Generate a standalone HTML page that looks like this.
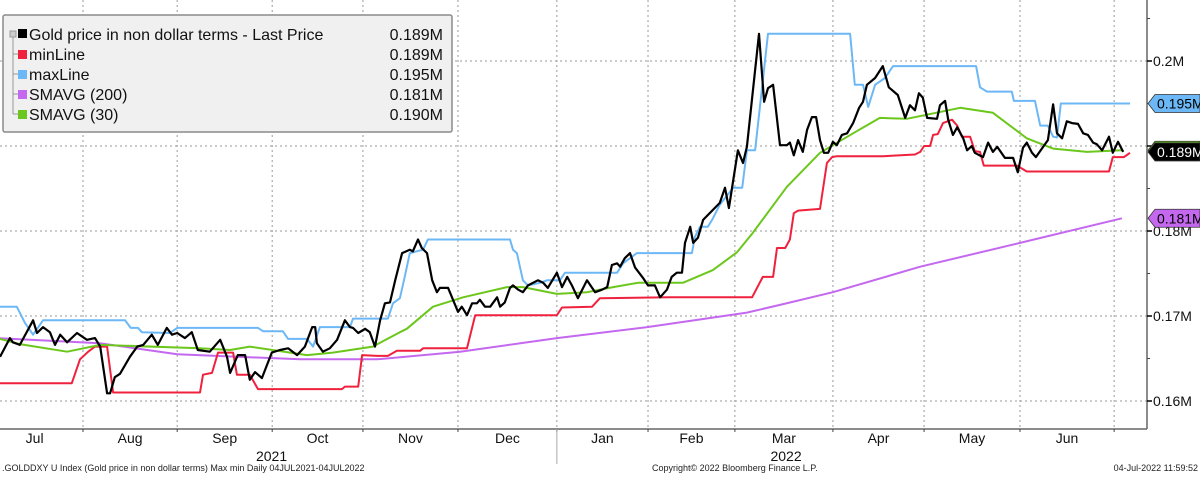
<!DOCTYPE html>
<html><head><meta charset="utf-8">
<style>
html,body{margin:0;padding:0;background:#fff;}
body{width:1200px;height:474px;overflow:hidden;font-family:"Liberation Sans",sans-serif;}
svg text{font-family:"Liberation Sans",sans-serif;}
</style></head>
<body>
<svg id="chart" width="1200" height="474" viewBox="0 0 1200 474" xmlns="http://www.w3.org/2000/svg">
  <g id="grid"></g>
  <g id="series"></g>
  <g id="axes"></g>
  <g id="legend">
    <rect x="3" y="15" width="449" height="117" rx="2" fill="#f0f0f0" stroke="#8a8a8a" stroke-width="1.5"/>
    <line x1="13" y1="34" x2="13" y2="114" stroke="#999" stroke-width="1"/>
    <rect x="10" y="31" width="6" height="6" fill="#ccc" stroke="#999"/>
    <g>
      <rect x="18" y="29" width="9" height="9" fill="#000"/>
      <text x="29" y="40" font-size="16" fill="#111">Gold price in non dollar terms - Last Price</text>
      <text x="443" y="40" font-size="16" fill="#111" text-anchor="end">0.189M</text>
    </g>
    <g>
      <line x1="13" y1="54" x2="18" y2="54" stroke="#999"/>
      <rect x="18" y="50" width="9" height="9" fill="#f0213d"/>
      <text x="29" y="60" font-size="16" fill="#111">minLine</text>
      <text x="443" y="60" font-size="16" fill="#111" text-anchor="end">0.189M</text>
    </g>
    <g>
      <line x1="13" y1="74" x2="18" y2="74" stroke="#999"/>
      <rect x="18" y="70" width="9" height="9" fill="#6cb8f6"/>
      <text x="29" y="80" font-size="16" fill="#111">maxLine</text>
      <text x="443" y="80" font-size="16" fill="#111" text-anchor="end">0.195M</text>
    </g>
    <g>
      <line x1="13" y1="94" x2="18" y2="94" stroke="#999"/>
      <rect x="18" y="90" width="9" height="9" fill="#c468f0"/>
      <text x="29" y="100" font-size="16" fill="#111">SMAVG (200)</text>
      <text x="443" y="100" font-size="16" fill="#111" text-anchor="end">0.181M</text>
    </g>
    <g>
      <line x1="13" y1="114" x2="18" y2="114" stroke="#999"/>
      <rect x="18" y="110" width="9" height="9" fill="#6cc71c"/>
      <text x="29" y="120" font-size="16" fill="#111">SMAVG (30)</text>
      <text x="443" y="120" font-size="16" fill="#111" text-anchor="end">0.190M</text>
    </g>
  </g>
  <g id="tags"></g>
  <g id="footer">
    <text x="2" y="471" font-size="9" fill="#222">.GOLDDXY U Index (Gold price in non dollar terms) Max min  Daily 04JUL2021-04JUL2022</text>
    <text x="652" y="471" font-size="9" fill="#222">Copyright© 2022 Bloomberg Finance L.P.</text>
    <text x="1198" y="471" font-size="9" fill="#222" text-anchor="end">04-Jul-2022 11:59:52</text>
  </g>
</svg>
<script>
// ---- data (x = trading-day index from 05-Jul-2021, values in thousands) ----
const monthStarts = [20, 41.9, 64, 85.1, 107.2, 130.2, 151.4, 171.6, 194.4, 215.6, 237.9, 259.8];
const monthLabels = ["Jul","Aug","Sep","Oct","Nov","Dec","Jan","Feb","Mar","Apr","May","Jun"];
const yTicks = [160, 170, 180, 190, 200];
const yTickLabels = ["0.16M","0.17M","0.18M","0.19M","0.2M"];
const yMinorTicks = [165, 175, 185, 195, 205];
const yearLabels = ["2021","2022"];

const priceDays = [0.7,3,3.7,5.3,8.4,9.3,10.7,12.3,13.5,14.7,16.3,18.6,20.9,22.8,24,25.6,26.3,27.4,28.6,30.9,32.6,34,36,37.4,39.5,40.7,41.9,43.7,45.3,46.7,49.5,51.9,53.5,54.2,56,57.7,58.8,60,61.6,63.9,65.8,67.7,69.8,71.6,73.3,74,74.4,75.8,77.4,79.1,80.9,82.1,82.8,84,85.6,86.7,87.9,89.1,90.2,91.4,92.6,94.2,96,96.7,97.9,98.8,100,101.2,102.3,103,104.9,107.2,108.1,109.3,110.5,111.6,112.3,113.5,114.7,116.3,117,118.1,119.3,120,121.2,122.3,123.5,125.8,127,128.1,130.2,131.4,132.6,133.7,135.1,137.2,139.1,140.7,141.9,143,144.2,144.9,146,147.2,148.4,150.2,151.4,153,154.2,155.8,156.9,158.1,159.3,160,161.2,161.9,163,164.2,168.1,169.3,170.2,172.3,173.5,174.4,177.2,178.4,179.3,180.5,182.1,183.7,184.4,185.3,186.3,187.4,188.4,189.5,190.5,191.4,192.3,193.3,194.4,195.3,196.5,197.7,199.1,200.5,201.4,202.3,204.2,206,207.4,209.5,211.2,212.3,213.5,214.4,215.3,216.3,218.6,219.3,220.5,221.2,222.3,223.3,224.7,225.6,226.7,227.4,229.3,230.5,231.6,232.6,234.4,236.3,237.4,238.6,239.5,240.7,241.6,243.3,244.4,245.6,246.5,247.7,248.8,250,251.4,252.6,253.7,254.9,255.8,257,258.6,259.5,260.7,261.9];
const priceVals = [165.2,167.4,166.9,166.6,169.5,168.0,168.7,168.1,166.6,167.8,166.9,168.0,167.2,167.4,166.4,160.9,160.9,162.8,163.2,165.2,166.4,166.6,167.8,166.6,168.6,167.8,168.0,167.4,168.1,166.0,165.8,167.2,165.2,163.3,165.4,165.4,162.5,163.4,162.7,165.7,166.0,166.2,165.4,166.4,168.7,168.7,166.8,165.8,166.2,167.2,169.5,168.7,168.6,168.0,168.5,168.1,166.4,169.5,171.5,171.6,174.2,177.4,177.8,177.6,179.0,178.0,177.4,174.2,172.8,173.3,173.3,170.5,171.1,170.1,171.5,171.5,171.9,171.1,171.1,172.2,171.1,171.6,173.3,173.6,173.1,172.8,173.6,174.2,173.9,173.3,175.1,173.4,174.6,173.6,172.1,174.2,172.8,173.1,173.4,176.0,176.2,175.8,176.8,177.4,175.7,174.5,173.6,173.6,172.2,173.1,174.6,175.1,175.1,178.6,180.5,178.6,179.2,181.3,183.3,185.1,182.7,189.5,188.0,189.9,203.2,195.2,196.8,197.2,190.1,190.1,190.4,188.9,190.7,189.3,191.9,193.4,193.4,190.7,189.2,189.2,190.5,190.1,191.3,191.5,192.7,194.5,195.2,197.2,198.0,199.4,196.9,196.0,193.3,194.8,194.2,196.2,195.7,193.3,193.2,194.8,195.3,193.1,191.3,192.2,190.9,189.5,190.0,189.2,188.7,190.4,189.3,189.9,188.6,188.6,186.9,189.8,190.4,189.2,188.7,189.9,190.7,194.9,191.5,190.9,192.9,192.7,192.6,191.5,191.3,190.4,190.2,189.5,191.1,189.2,190.5,189.3];

const minDays = [0,17.4,19.3,21.2,22.8,25.6,27,47.2,47.9,50,51.4,54.9,55.8,58.8,60.7,80.2,80.9,84,84.9,88.4,90.9,93,98.4,99.1,109.3,111.2,130.2,131.4,138.4,140.2,156.5,175.6,178.1,180.5,181.4,183.3,184.4,185.3,186.3,191.4,193,194.2,195.3,206,213.5,214.7,215.6,217,217.7,218.8,220,222.1,223.3,224.4,226.3,227.4,228.6,229.5,237.2,239.5,258.6,259.5,262.1,263.5];
const minVals = [162.1,162.1,164.9,165.8,166.4,166.4,161.0,161.0,163.1,163.3,165.7,165.7,163.1,163.1,161.4,161.4,161.7,161.7,165.4,165.3,165.3,165.9,165.9,166.2,166.2,170.1,170.1,171.0,171.1,172.1,172.2,172.2,174.6,174.6,178.0,178.0,179.0,182.1,182.4,182.6,188.0,188.7,188.8,188.8,189.0,189.3,190.0,190.0,191.3,191.4,192.7,193.1,192.4,191.1,191.1,189.4,189.3,187.7,187.7,187.0,187.0,188.7,188.7,189.2];

const maxDays = [0,4.6,6.5,8.4,10.7,29.8,31.1,32.8,33.7,40.2,41.9,60.7,61.9,66.5,67.7,72.1,73.5,75.1,82.1,82.8,90.9,92.1,93.7,94.9,96,99.1,100.2,119.3,120,120.9,122.3,123.5,126.3,127.9,130.9,132.1,144.2,145.6,148.8,161.6,162.3,163.5,165.3,166.3,168.1,171.2,173.3,174.4,176.3,179.3,198.4,199.5,201.4,202.6,204.2,206.5,208.4,227.7,228.6,230.2,236,236.5,241.4,242.6,244.4,245.6,246.5,247.4,263.5];
const maxVals = [171.1,171.1,169.2,167.8,169.5,169.5,168.6,168.6,168.1,168.0,168.6,168.6,168.2,168.2,167.3,167.3,166.4,168.7,168.7,169.7,169.7,171.5,172.1,174.8,177.4,177.8,179.0,179.0,177.8,177.4,174.2,173.6,173.9,174.2,174.2,175.1,175.1,176.2,177.4,177.4,179.3,180.5,180.5,181.3,183.1,185.1,185.1,189.5,189.5,203.2,203.2,197.2,197.2,194.6,197.2,198.0,199.4,199.4,196.9,196.4,196.4,195.3,195.3,192.4,192.4,191.1,191.0,195.0,195.0];

const sma200Days = [0,23.9,41.9,70.5,88.4,107.7,130.2,151.2,174.4,182.1,194.4,214.7,237.9,261.6];
const sma200Vals = [167.4,166.8,165.5,164.9,164.9,165.8,167.4,168.7,170.4,171.3,172.8,175.8,178.6,181.5];

const sma30Days = [0,5.3,16.3,24,47.2,54.2,58.8,72.1,78.1,87.4,93.7,95.3,101.4,108.4,118.6,122.3,130.2,137.2,143.3,149.1,159.5,166.5,172.1,175.8,183.7,191.4,199.1,205.3,211.6,224,231.6,239.5,245.6,253.5,261.6];
const sma30Vals = [167.4,166.7,165.8,166.6,166.2,166.0,166.4,165.4,165.7,166.4,168.1,168.5,171.1,172.2,173.4,173.4,172.6,172.8,173.4,173.9,173.9,175.4,177.5,179.8,185.2,189.2,191.5,193.3,193.2,194.5,193.9,190.9,189.7,189.3,189.5];

// ---- axes ----
const PLOT_R = 1147, PLOT_B = 429;
function xScale(d){ return -3 + d * 4.3; }
function yScale(v){ return 61 + (200 - v) * 8.5; }
const NS = "http://www.w3.org/2000/svg";
function mk(tag, attrs, parent){ const e=document.createElementNS(NS,tag); for(const k in attrs) e.setAttribute(k, attrs[k]); parent.appendChild(e); return e; }

const grid = document.getElementById('grid');
yTicks.forEach(v=>{
  const l = mk('line',{x1:0,x2:PLOT_R,y1:yScale(v),y2:yScale(v),stroke:'#9a9a9a','stroke-width':1,'stroke-dasharray':'2,3'},grid);
  
  
});
monthStarts.forEach(d=>{
  const l = mk('line',{x1:xScale(d),x2:xScale(d),y1:0,y2:PLOT_B,stroke:'#9a9a9a','stroke-width':1,'stroke-dasharray':'2,3'},grid);
  
  
});

const series = document.getElementById('series');
function drawLine(days, vals, color, name, w){
  const pts = days.map((d,i)=> xScale(d).toFixed(1)+','+yScale(vals[i]).toFixed(1)).join(' ');
  const p = mk('polyline',{points:pts,fill:'none',stroke:color,'stroke-width':w,'stroke-linejoin':'round'},series);
  
  
}
drawLine(sma200Days, sma200Vals, '#c468f0', 'smavg-200-line', 2);
drawLine(maxDays, maxVals, '#6cb8f6', 'maxline', 2);
drawLine(minDays, minVals, '#f0213d', 'minline', 2);
drawLine(sma30Days, sma30Vals, '#6cc71c', 'smavg-30-line', 2);
drawLine(priceDays, priceVals, '#000000', 'last-price-line', 2.2);

const axes = document.getElementById('axes');
mk('line',{x1:PLOT_R,x2:PLOT_R,y1:0,y2:PLOT_B,stroke:'#666','stroke-width':1.5},axes);
mk('line',{x1:0,x2:PLOT_R,y1:PLOT_B,y2:PLOT_B,stroke:'#666','stroke-width':1.5},axes);
yTicks.forEach((v,i)=>{
  mk('line',{x1:PLOT_R,x2:PLOT_R+5,y1:yScale(v),y2:yScale(v),stroke:'#000','stroke-width':1.5},axes);
  const t = mk('text',{x:PLOT_R+6,y:yScale(v)+5,'font-size':14,fill:'#111'},axes);
  t.textContent = yTickLabels[i];
  
  
});
yMinorTicks.forEach(v=>{
  mk('line',{x1:PLOT_R,x2:PLOT_R+3,y1:yScale(v),y2:yScale(v),stroke:'#444','stroke-width':1},axes);
});
const bounds = [-2.5].concat(monthStarts);
monthLabels.forEach((m,i)=>{
  const cx = (xScale(bounds[i]) + xScale(bounds[i+1]))/2;
  const t = mk('text',{x:cx,y:443,'font-size':14,fill:'#111','text-anchor':'middle'},axes);
  t.textContent = m;
  
  
});
monthStarts.forEach(d=>{
  mk('line',{x1:xScale(d),x2:xScale(d),y1:PLOT_B,y2:PLOT_B+3,stroke:'#444','stroke-width':1},axes);
});
mk('line',{x1:xScale(monthStarts[5]),x2:xScale(monthStarts[5]),y1:PLOT_B,y2:464,stroke:'#aaa','stroke-width':1},axes);
[[0,5],[5,11]].forEach((r,i)=>{
  const cx = (xScale(bounds[r[0]]) + xScale(monthStarts[r[1]]))/2;
  const t = mk('text',{x:cx,y:461,'font-size':14,fill:'#111','text-anchor':'middle'},axes);
  t.textContent = yearLabels[i];
  
  
});

// value tags on right axis
const tags = document.getElementById('tags');
function tag(v, label, bg, fg, name){
  const y = yScale(v);
  const p = mk('path',{d:`M${PLOT_R+1},${y} L${PLOT_R+8},${y-9} L1200,${y-9} L1200,${y+9} L${PLOT_R+8},${y+9} Z`,fill:bg,stroke:'#333','stroke-width':0.8},tags);
  
  
  const t = mk('text',{x:PLOT_R+10,y:y+5,'font-size':14,fill:fg},tags);
  t.textContent = label;
}
tag(maxVals[maxVals.length-1], '0.195M', '#6cb8f6', '#000', 'maxline-value-tag');
tag(sma200Vals[sma200Vals.length-1], '0.181M', '#c468f0', '#000', 'smavg-200-value-tag');
tag(sma30Vals[sma30Vals.length-1], '0.190M', '#6cc71c', '#000', 'smavg-30-value-tag');
tag(priceVals[priceVals.length-1], '0.189M', '#000', '#fff', 'last-price-value-tag');
</script>
</body></html>
